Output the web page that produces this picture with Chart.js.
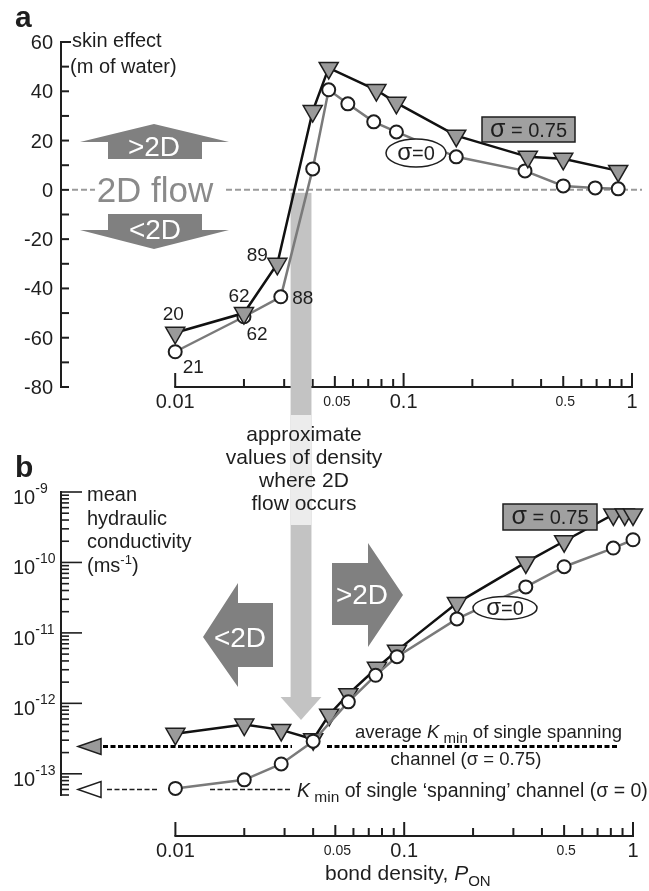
<!DOCTYPE html>
<html>
<head>
<meta charset="utf-8">
<script src="https://cdn.jsdelivr.net/npm/chart.js@4.4.1/dist/chart.umd.min.js"></script>
<style>
  html, body { margin: 0; padding: 0; background: #fff; }
  #wrap { position: relative; width: 649px; height: 891px; overflow: hidden; }
  #wrap canvas { position: absolute; left: 0; top: 0; }
</style>
</head>
<body>
<div id="wrap">
  <canvas id="panelA" width="649" height="891"></canvas>
  <canvas id="panelB" width="649" height="891"></canvas>
</div>
<script>
// ---- data ----
// (a) skin effect vs bond density
var densA_s75 = [0.01, 0.02, 0.028, 0.04, 0.047, 0.076, 0.093, 0.17, 0.35, 0.5, 0.87];
var skinA_s75 = [-58, -50, -30, 32, 49.5, 40.5, 35.3, 22, 13.4, 12.6, 7.7];
var densA_s0  = [0.01, 0.02, 0.029, 0.04, 0.047, 0.057, 0.074, 0.093, 0.17, 0.34, 0.5, 0.69, 0.87];
var skinA_s0  = [-65.7, -51.5, -43.4, 8.5, 40.6, 34.9, 27.6, 23.5, 13.4, 7.7, 1.6, 0.8, 0.4];
// sample counts written beside the first three points of each series
var countsA_s75 = ['20', '62', '89'];
var countsA_s0  = ['21', '62', '88'];

// (b) mean hydraulic conductivity vs bond density
var densB_s75 = [0.01, 0.02, 0.029, 0.04, 0.047, 0.057, 0.076, 0.093, 0.17, 0.34, 0.5, 0.82, 0.92, 1.0];
var condB_s75 = [3.7e-13, 5.0e-13, 4.2e-13, 3.1e-13, 6.9e-13, 1.35e-12, 3.2e-12, 5.6e-12, 2.65e-11, 1.0e-10, 2.0e-10, 4.8e-10, 4.8e-10, 4.8e-10];
var densB_s0  = [0.01, 0.02, 0.029, 0.04, 0.057, 0.075, 0.093, 0.17, 0.34, 0.5, 0.82, 1.0];
var condB_s0  = [6.2e-14, 8.2e-14, 1.38e-13, 2.9e-13, 1.05e-12, 2.5e-12, 4.6e-12, 1.58e-11, 4.5e-11, 8.7e-11, 1.6e-10, 2.1e-10];

// K_min of a single spanning channel: sigma = 0.75, sigma = 0
var kminLevels = [2.5e-13, 6.1e-14];
// density range where 2D flow occurs
var band2D = [0.032, 0.0395];

// axis ticks
var skinTicks = [-80, -60, -40, -20, 0, 20, 40, 60];
var xLabelValues = [0.01, 0.05, 0.1, 0.5, 1];
var xLabelText = ['0.01', '0.05', '0.1', '0.5', '1'];
var condDecades = [-9, -10, -11, -12, -13];

// ---- drawing helpers ----
var INK = '#1e1e1e';
var FONT = '"Liberation Sans", Arial, Helvetica, sans-serif';
var ARROW_GREY = '#808080';
var BAND_GREY = '#c3c3c3';

function pairs(xs, ys) {
  return xs.map(function (x, i) { return { x: x, y: ys[i] }; });
}

function fontOf(p) {
  return (p.italic ? 'italic ' : '') + (p.bold ? 'bold ' : '') + p.size + 'px ' + FONT;
}

// draws a run of text pieces (for sub/superscripts), returns width
function runs(ctx, parts, x, y, align) {
  ctx.save();
  var widths = parts.map(function (p) { ctx.font = fontOf(p); return ctx.measureText(p.t).width; });
  var total = widths.reduce(function (a, b) { return a + b; }, 0);
  var cx = align === 'right' ? x - total : align === 'center' ? x - total / 2 : x;
  ctx.textAlign = 'left';
  ctx.textBaseline = 'alphabetic';
  parts.forEach(function (p, i) {
    ctx.font = fontOf(p);
    ctx.fillStyle = p.color || INK;
    ctx.fillText(p.t, cx, y + (p.dy || 0));
    cx += widths[i];
  });
  ctx.restore();
  return total;
}

function text(ctx, s, x, y, size, align, color) {
  return runs(ctx, [{ t: s, size: size, color: color }], x, y, align);
}

function seg(ctx, x0, y0, x1, y1) {
  ctx.beginPath();
  ctx.moveTo(x0, y0);
  ctx.lineTo(x1, y1);
  ctx.stroke();
}

function poly(ctx, pts, fill, stroke, lw) {
  ctx.beginPath();
  pts.forEach(function (p, i) { if (i) ctx.lineTo(p[0], p[1]); else ctx.moveTo(p[0], p[1]); });
  ctx.closePath();
  if (fill) { ctx.fillStyle = fill; ctx.fill(); }
  if (stroke) { ctx.strokeStyle = stroke; ctx.lineWidth = lw || 1; ctx.stroke(); }
}

function sigmaBox(ctx, x0, y0, x1, y1) {
  ctx.save();
  ctx.fillStyle = '#a0a0a0';
  ctx.fillRect(x0, y0, x1 - x0, y1 - y0);
  ctx.strokeStyle = INK;
  ctx.lineWidth = 1.5;
  ctx.strokeRect(x0, y0, x1 - x0, y1 - y0);
  runs(ctx, [{ t: 'σ', size: 25 }, { t: ' = 0.75', size: 20 }], (x0 + x1) / 2, (y0 + y1) / 2 + 7, 'center');
  ctx.restore();
}

function sigmaEllipse(ctx, cx, cy, rx, ry) {
  ctx.save();
  ctx.beginPath();
  ctx.ellipse(cx, cy, rx, ry, 0, 0, Math.PI * 2);
  ctx.fillStyle = '#fff';
  ctx.fill();
  ctx.strokeStyle = INK;
  ctx.lineWidth = 1.5;
  ctx.stroke();
  runs(ctx, [{ t: 'σ', size: 24 }, { t: '=0', size: 20 }], cx, cy + 7, 'center');
  ctx.restore();
}

// log x axis drawn from 0.01 to 1 with inward ticks
function densityAxis(ctx, xs, yAxis, labelBase) {
  ctx.save();
  ctx.strokeStyle = INK;
  ctx.lineWidth = 2;
  seg(ctx, xs.getPixelForValue(0.01) - 1, yAxis, xs.getPixelForValue(1) + 1, yAxis);
  [0.01, 0.1].forEach(function (d) {
    for (var m = 1; m <= 9; m++) {
      var px = xs.getPixelForValue(m * d);
      var len = m === 1 ? 14 : (m === 5 ? 11 : 8);
      seg(ctx, px, yAxis, px, yAxis - len);
    }
  });
  var p1 = xs.getPixelForValue(1);
  seg(ctx, p1, yAxis, p1, yAxis - 14);
  xLabelValues.forEach(function (v, i) {
    var small = (v === 0.05 || v === 0.5);
    text(ctx, xLabelText[i], xs.getPixelForValue(v) + (small ? 2 : 0), labelBase - (small ? 2 : 0), small ? 14 : 20, 'center');
  });
  ctx.restore();
}

function seriesStyle(data, kind) {
  var tri = kind === 'tri';
  return {
    data: data,
    borderColor: tri ? '#111' : '#7a7a7a',
    borderWidth: 2.5,
    pointStyle: tri ? 'triangle' : 'circle',
    pointRotation: tri ? 180 : 0,
    pointRadius: tri ? 11 : 6.5,
    pointBackgroundColor: tri ? '#9a9a9a' : '#fff',
    pointBorderColor: INK,
    pointBorderWidth: tri ? 1.5 : 2,
    fill: false,
    tension: 0,
    clip: false
  };
}

// ---- panel a decorations (this canvas sits under panel b) ----
var panelADecor = {
  id: 'panelADecor',
  beforeDatasetsDraw: function (chart) {
    var ctx = chart.ctx, xs = chart.scales.x, ys = chart.scales.y, area = chart.chartArea;
    var yZero = ys.getPixelForValue(0);
    ctx.save();

    // y axis, ticks every 10 pointing inward
    ctx.strokeStyle = INK;
    ctx.lineWidth = 2;
    seg(ctx, area.left, ys.getPixelForValue(60) - 1, area.left, ys.getPixelForValue(-80) + 1);
    for (var v = -80; v <= 60; v += 10) {
      var py = ys.getPixelForValue(v);
      seg(ctx, area.left, py, area.left + (v === 60 ? 10 : 8), py);
    }
    skinTicks.forEach(function (t) {
      text(ctx, String(t), area.left - 8, ys.getPixelForValue(t) + 7, 20, 'right');
    });

    densityAxis(ctx, xs, area.bottom, area.bottom + 21);

    // 2D flow reference line
    ctx.strokeStyle = '#9a9a9a';
    ctx.lineWidth = 2;
    ctx.setLineDash([6, 3]);
    seg(ctx, area.left + 11, yZero, 95, yZero);
    seg(ctx, 226, yZero, area.right + 10, yZero);
    ctx.setLineDash([]);
    text(ctx, '2D flow', 155, yZero + 12, 35, 'center', '#8a8a8a');

    // arrows above and below the line
    poly(ctx, [[154, 124], [229, 142], [202, 142], [202, 159], [108, 159], [108, 142], [80, 142]], ARROW_GREY);
    poly(ctx, [[108, 214], [202, 214], [202, 230], [229, 230], [154, 249], [80, 230], [108, 230]], ARROW_GREY);
    text(ctx, '>2D', 154, 156, 28, 'center', '#fff');
    text(ctx, '<2D', 155, 239, 28, 'center', '#fff');

    // density band where 2D flow occurs, running down into panel b as an arrow
    var bx0 = xs.getPixelForValue(band2D[0]), bx1 = xs.getPixelForValue(band2D[1]);
    var bc = (bx0 + bx1) / 2;
    ctx.fillStyle = BAND_GREY;
    ctx.fillRect(bx0, yZero + 3, bx1 - bx0, 697 - yZero - 3);
    poly(ctx, [[bx0 - 10, 697], [bx1 + 10, 697], [bc, 720]], BAND_GREY);
    ctx.fillStyle = '#ececec';
    ctx.fillRect(bx0, 415, bx1 - bx0, 110);
    ctx.restore();
  },
  afterDatasetsDraw: function (chart) {
    var ctx = chart.ctx, xs = chart.scales.x, ys = chart.scales.y;
    ctx.save();
    var offS75 = [[-2, -20], [-5, -18], [-20, -10]];
    var offS0 = [[18, 14], [13, 16], [22, 0]];
    countsA_s75.forEach(function (c, i) {
      text(ctx, c, xs.getPixelForValue(densA_s75[i]) + offS75[i][0], ys.getPixelForValue(skinA_s75[i]) + offS75[i][1] + 7, 19, 'center');
    });
    countsA_s0.forEach(function (c, i) {
      text(ctx, c, xs.getPixelForValue(densA_s0[i]) + offS0[i][0], ys.getPixelForValue(skinA_s0[i]) + offS0[i][1] + 7, 19, 'center');
    });
    sigmaBox(ctx, 482, 117, 575, 142);
    sigmaEllipse(ctx, 416, 153, 30, 14);
    runs(ctx, [{ t: 'a', size: 30, bold: true }], 15, 27, 'left');
    text(ctx, 'skin effect', 72, 47, 20, 'left');
    text(ctx, '(m of water)', 70, 73, 20, 'left');
    ctx.restore();
  }
};

// ---- panel b decorations ----
var panelBDecor = {
  id: 'panelBDecor',
  beforeDatasetsDraw: function (chart) {
    var ctx = chart.ctx, xs = chart.scales.x, ys = chart.scales.y, area = chart.chartArea;
    ctx.save();

    // log y axis with decade and minor ticks
    ctx.strokeStyle = INK;
    ctx.lineWidth = 2;
    seg(ctx, area.left, area.top - 1, area.left, area.bottom + 1);
    ctx.lineWidth = 1.6;
    for (var e = -14; e <= -9; e++) {
      for (var m = 1; m <= 9; m++) {
        var v = m * Math.pow(10, e);
        if (v < ys.min * 0.999 || v > ys.max * 1.001) continue;
        var py = ys.getPixelForValue(v);
        seg(ctx, area.left, py, area.left + (m === 1 ? 21 : 8), py);
      }
    }
    condDecades.forEach(function (d) {
      var py = ys.getPixelForValue(Math.pow(10, d));
      runs(ctx, [{ t: '10', size: 20 }, { t: String(d), size: 14, dy: -11 }], 13, py + 12, 'left');
    });

    densityAxis(ctx, xs, area.bottom + 41, area.bottom + 62);
    runs(ctx, [{ t: 'bond density, ', size: 21 }, { t: 'P', size: 21, italic: true }, { t: 'ON', size: 15, dy: 6 }],
      325, area.bottom + 85, 'left');

    // <2D and >2D arrows
    poly(ctx, [[203, 637], [238, 583], [238, 603], [273, 603], [273, 667], [238, 667], [238, 687]], ARROW_GREY);
    poly(ctx, [[332, 563], [368, 563], [368, 543], [403, 595], [368, 647], [368, 625], [332, 625]], ARROW_GREY);
    text(ctx, '<2D', 240, 647, 28, 'center', '#fff');
    text(ctx, '>2D', 362, 604, 28, 'center', '#fff');

    // K_min of a single spanning channel
    var segs = [[[103, 292], [327, 617]], [[107, 157], [210, 290]]];
    ctx.strokeStyle = '#000';
    ctx.lineWidth = 3;
    kminLevels.forEach(function (k, i) {
      var py = Math.round(ys.getPixelForValue(k)) + 0.5;
      ctx.setLineDash([5, 2.5]);
      segs[i].forEach(function (s) { seg(ctx, s[0], py, s[1], py); });
      ctx.setLineDash([]);
      poly(ctx, [[78, py], [101, py - 8], [101, py + 8]], i === 0 ? '#9a9a9a' : '#fff', INK, 1.5);
    });
    ctx.restore();
  },
  afterDatasetsDraw: function (chart) {
    var ctx = chart.ctx, ys = chart.scales.y;
    ctx.save();
    runs(ctx, [{ t: 'b', size: 30, bold: true }], 15, 477, 'left');
    text(ctx, 'mean', 87, 501, 20, 'left');
    text(ctx, 'hydraulic', 87, 525, 20, 'left');
    text(ctx, 'conductivity', 87, 548, 20, 'left');
    runs(ctx, [{ t: '(ms', size: 20 }, { t: '-1', size: 13, dy: -8 }, { t: ')', size: 20 }], 87, 572, 'left');

    ['approximate', 'values of density', 'where 2D', 'flow occurs'].forEach(function (s, i) {
      text(ctx, s, 304, 441 + i * 23, 21, 'center');
    });

    var y75 = ys.getPixelForValue(kminLevels[0]);
    var y0 = ys.getPixelForValue(kminLevels[1]);
    runs(ctx, [{ t: 'average ', size: 18.5 }, { t: 'K', size: 18.5, italic: true }, { t: ' min', size: 15, dy: 5 },
      { t: ' of single spanning', size: 18.5 }], 622, y75 - 8, 'right');
    text(ctx, 'channel (σ = 0.75)', 466, y75 + 19, 18.5, 'center');
    runs(ctx, [{ t: 'K', size: 19.5, italic: true }, { t: ' min', size: 15.5, dy: 5 },
      { t: ' of single ‘spanning’ channel (σ = 0)', size: 19.5 }], 297, y0 + 8, 'left');

    sigmaBox(ctx, 503, 504, 597, 530);
    sigmaEllipse(ctx, 505, 608, 32, 11.5);
    ctx.restore();
  }
};

function baseOptions(padding, yScale) {
  return {
    responsive: false,
    animation: false,
    events: [],
    layout: { padding: padding },
    plugins: { legend: { display: false }, tooltip: { enabled: false } },
    scales: {
      x: { type: 'logarithmic', min: Math.pow(10, -2.5), max: 1, display: false },
      y: yScale
    }
  };
}

new Chart(document.getElementById('panelA'), {
  type: 'line',
  data: {
    datasets: [
      seriesStyle(pairs(densA_s75, skinA_s75), 'tri'),
      seriesStyle(pairs(densA_s0, skinA_s0), 'circ')
    ]
  },
  options: baseOptions({ left: 61, right: 17, top: 42, bottom: 504 },
    { type: 'linear', min: -80, max: 60, display: false }),
  plugins: [panelADecor]
});

new Chart(document.getElementById('panelB'), {
  type: 'line',
  data: {
    datasets: [
      seriesStyle(pairs(densB_s0, condB_s0), 'circ'),
      seriesStyle(pairs(densB_s75, condB_s75), 'tri')
    ]
  },
  options: baseOptions({ left: 61, right: 16, top: 492, bottom: 96 },
    { type: 'logarithmic', min: 5e-14, max: 1e-9, display: false }),
  plugins: [panelBDecor]
});
</script>
</body>
</html>
